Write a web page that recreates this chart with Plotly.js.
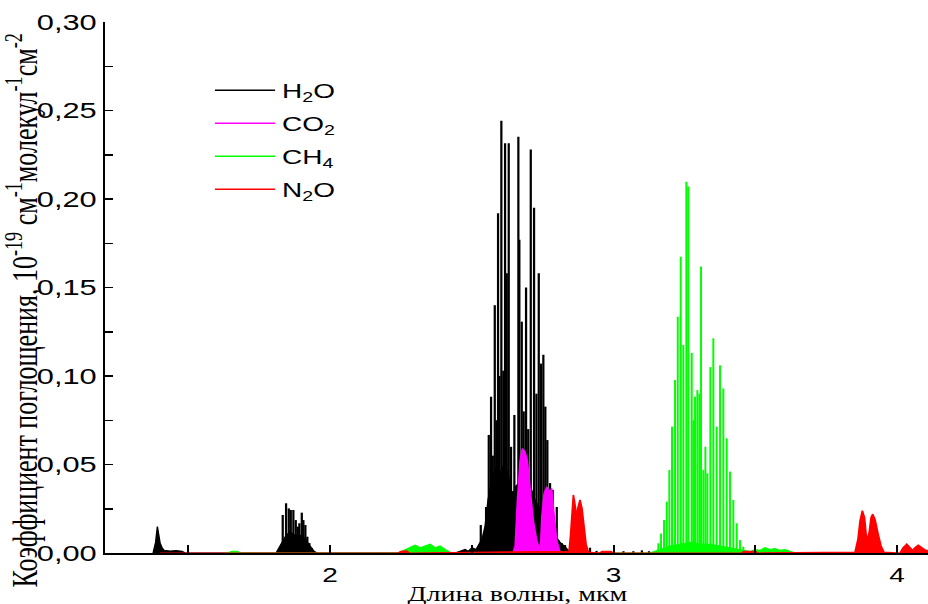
<!DOCTYPE html>
<html>
<head>
<meta charset="utf-8">
<script src="https://cdn.plot.ly/plotly-3.0.1.min.js"></script>
<style>
html,body{margin:0;padding:0;background:#fff;overflow:hidden;width:928px;height:604px;}
#chart{width:663px;height:604px;transform:scaleX(1.4);transform-origin:0 0;}
</style>
</head>
<body>
<div id="chart"></div>
<script>
// ---- data (wavelength in µm, absorption coefficient) ----
const seriesNames = ['H<sub>2</sub>O', 'CO<sub>2</sub>', 'CH<sub>4</sub>', 'N<sub>2</sub>O'];
const seriesColors = ['#000000', '#ff00ff', '#00ff00', '#ff0000'];

// H2O dense absorption envelope
const h2oEnvX = [1.3757,1.3845,1.3908,1.3951,1.4004,1.4074,1.4145,1.4356,1.4568,1.4780,1.4885,
  1.8095,1.8201,1.8307,1.8448,1.8589,1.8765,1.8942,1.9118,1.9295,1.9436,1.9541,
  2.4409,2.4586,2.4762,2.4868,2.5009,2.5150,2.5256,2.5362,2.5467,2.5573,2.5714,2.5855,2.5996,2.6138,2.6279,2.6420,2.6561,2.6702,2.6878,2.7055,2.7231,2.7407,2.7584,2.7760,2.7937,2.8113,2.8254,2.8395,2.8501];
const h2oEnvY = [0,0.006,0.0149,0.009,0.0056,0.003,0.0015,0.0012,0.0014,0.001,0,
  0,0.003,0.006,0.010,0.012,0.010,0.010,0.008,0.004,0.001,0,
  0,0.001,0.002,0.001,0.003,0.002,0.005,0.008,0.015,0.030,0.042,0.048,0.045,0.050,0.045,0.032,0.038,0.040,0.032,0.038,0.030,0.025,0.028,0.020,0.010,0.006,0.004,0.002,0];
// H2O individual lines
const h2oLineX = [1.8330,1.8448,1.8543,1.8614,1.8705,1.8790,1.8861,1.8917,1.9002,1.9058,1.9129,1.9199,1.9270,1.9354,
  2.5316,2.5503,2.5598,2.5679,2.5740,2.5810,2.5870,2.5926,2.5975,2.6042,2.6113,2.6173,2.6233,2.6303,2.6384,2.6445,2.6501,2.6642,2.6677,2.6762,2.6830,2.6914,2.6990,2.7080,2.7196,2.7280,2.7362,2.7443,2.7524,2.7594,2.7665,2.7760,2.7855,2.7997,2.8053,2.8173,2.8289,
  2.917,2.940,3.035,3.070,3.100,3.125];
const h2oLineY = [0.0215,0.0281,0.0252,0.0243,0.0243,0.0186,0.0149,0.0168,0.0228,0.0186,0.0158,0.0092,0.0056,0.0028,
  0.0158,0.026,0.0667,0.0883,0.055,0.140,0.075,0.192,0.10,0.2442,0.103,0.2315,0.158,0.2315,0.06,0.035,0.078,0.2352,0.177,0.1307,0.08,0.150,0.07,0.228,0.195,0.09,0.158,0.107,0.112,0.0827,0.0638,0.0395,0.0356,0.026,0.0073,0.0056,0.0045,
  0.003,0.0012,0.001,0.001,0.0015,0.001];

// CO2 band
const co2EnvX = [2.6450,2.6526,2.6607,2.6702,2.6783,2.6878,2.6960,2.7055,2.7171,2.7291,2.7383,2.7420,2.7467,2.7549,2.7644,2.7735,2.7820,2.7901,2.7997,2.8113,2.8150];
const co2EnvY = [0,0.004,0.030,0.0525,0.0591,0.0572,0.0525,0.0394,0.0186,0.0073,0.0027,0.004,0.0205,0.0337,0.0375,0.0346,0.0365,0.0224,0.0073,0.0007,0];

// CH4 band
const ch4EnvX = [1.6367,1.6543,1.6720,1.6861,
  2.2399,2.2646,2.2822,2.2998,2.3175,2.3351,2.3527,2.3704,2.3880,2.4056,2.4233,2.4409,
  3.1287,3.1464,3.1640,3.1993,3.2346,3.2698,3.3051,3.3404,3.3757,3.4109,3.4462,3.4815,3.4991,3.5168,3.5344,3.5520,3.5697,3.5873,3.6049,3.6226,3.6402];
const ch4EnvY = [0,0.001,0.001,0,
  0,0.002,0.003,0.0045,0.003,0.004,0.005,0.003,0.004,0.002,0.0005,0,
  0,0.001,0.002,0.004,0.005,0.006,0.005,0.005,0.004,0.003,0.002,0.0008,0.002,0.0015,0.003,0.002,0.0025,0.0015,0.002,0.001,0];
const ch4LineX = [3.1580,3.1675,3.1781,3.1877,3.1968,3.2063,3.2169,3.2265,3.2370,3.2462,3.2568,3.2638,3.2758,3.2820,3.2875,3.2956,3.3027,3.3086,3.3168,3.3240,3.3309,3.3415,3.3520,3.3640,3.3757,3.3873,3.3993,3.4109,3.4226,3.4346,3.4462,3.4578];
const ch4LineY = [0.0055,0.011,0.0186,0.029,0.0469,0.0714,0.0977,0.1335,0.1674,0.1175,0.2098,0.207,0.113,0.075,0.0883,0.092,0.09,0.1618,0.047,0.06,0.045,0.105,0.1213,0.0714,0.106,0.093,0.0648,0.046,0.030,0.0168,0.0073,0.0036];

// N2O band
const n2oEnvX = [1.400,2.240,2.250,2.270,2.280,
  2.8430,2.8483,2.8536,2.8582,2.8624,2.8677,2.8702,2.8748,2.8818,2.8889,2.8959,2.9030,2.9111,
  2.950,2.960,2.990,3.000,3.450,3.460,3.500,3.510,
  3.8519,3.8624,3.8695,3.8776,3.8854,3.8907,3.8967,3.9030,3.9083,3.9143,3.9224,3.9330,3.9436,3.9541,
  4.0106,4.0212,4.0342,4.0459,4.0554,4.0635,4.0751,4.0882,4.1023,4.1164];
const n2oEnvY = [0,0,0.001,0.0012,0,
  0.001,0.010,0.026,0.0328,0.029,0.021,0.0205,0.026,0.030,0.025,0.014,0.005,0.0005,
  0,0.001,0.001,0,0,0.001,0.001,0,
  0.0005,0.008,0.018,0.0239,0.020,0.011,0.0073,0.013,0.020,0.022,0.019,0.011,0.004,0.0005,
  0,0.003,0.0051,0.003,0.0015,0.003,0.0045,0.003,0.0015,0.0015];

const xTickVals = [2, 3, 4];
const xTickText = ['2', '3', '4'];
const yTickVals = [0, 0.05, 0.10, 0.15, 0.20, 0.25, 0.30];

// ---- build traces ----
function sticks(xs, ys) {
  const x = [], y = [];
  xs.forEach((v, i) => { x.push(v, v, null); y.push(0, ys[i], null); });
  return {x, y};
}
const h2oSt = sticks(h2oLineX, h2oLineY);
const ch4St = sticks(ch4LineX, ch4LineY);

const traces = [
  {x: h2oEnvX, y: h2oEnvY, mode: 'lines', fill: 'tozeroy', fillcolor: seriesColors[0], line: {color: seriesColors[0], width: 1}, showlegend: false, hoverinfo: 'skip'},
  {x: h2oSt.x, y: h2oSt.y, mode: 'lines', line: {color: seriesColors[0], width: 1.6}, showlegend: false, hoverinfo: 'skip', connectgaps: false},
  {x: co2EnvX, y: co2EnvY, mode: 'lines', fill: 'tozeroy', fillcolor: seriesColors[1], line: {color: seriesColors[1], width: 1}, showlegend: false, hoverinfo: 'skip'},
  {x: ch4EnvX, y: ch4EnvY, mode: 'lines', fill: 'tozeroy', fillcolor: seriesColors[2], line: {color: seriesColors[2], width: 1}, showlegend: false, hoverinfo: 'skip'},
  {x: ch4St.x, y: ch4St.y, mode: 'lines', line: {color: seriesColors[2], width: 1.4}, showlegend: false, hoverinfo: 'skip', connectgaps: false},
  {x: n2oEnvX, y: n2oEnvY, mode: 'lines', fill: 'tozeroy', fillcolor: seriesColors[3], line: {color: seriesColors[3], width: 1.2}, showlegend: false, hoverinfo: 'skip'}
];
seriesNames.forEach((n, i) => {
  traces.push({x: [null], y: [null], mode: 'lines', name: n, legendgroup: 'g' + i,
               line: {color: seriesColors[i], width: 1.5}, showlegend: true});
});

const layout = {
  width: 663, height: 604,
  margin: {l: 75, r: 0, t: 22, b: 51},
  paper_bgcolor: '#ffffff', plot_bgcolor: '#ffffff',
  separators: ', ',
  font: {family: 'Liberation Sans, Arial, sans-serif', size: 20, color: '#000'},
  showlegend: true,
  legend: {x: 0.125, y: 0.908, xanchor: 'left', yanchor: 'top', bgcolor: 'rgba(0,0,0,0)',
           font: {family: 'Liberation Sans, Arial, sans-serif', size: 20, color: '#000'},
           itemwidth: 43, traceorder: 'grouped', tracegroupgap: 4},
  xaxis: {range: [1.206, 4.110], showgrid: false, zeroline: false, showline: true, linecolor: '#000', linewidth: 1.5,
          tickmode: 'array', tickvals: xTickVals, ticktext: xTickText, ticks: 'inside', ticklen: 8, tickwidth: 1.4, tickcolor: '#000',
          minor: {ticks: 'inside', dtick: 0.5, tick0: 0, ticklen: 8, tickwidth: 1.4, tickcolor: '#000', showgrid: false},
          ticklabelstandoff: 4, tickfont: {size: 20}},
  yaxis: {range: [0, 0.30], showgrid: false, zeroline: false, showline: true, linecolor: '#000', linewidth: 1.5,
          tickmode: 'array', tickvals: yTickVals, tickformat: '.2f', ticks: 'inside', ticklen: 6, tickwidth: 1.5, tickcolor: '#000',
          minor: {ticks: 'inside', dtick: 0.025, tick0: 0, ticklen: 6, tickwidth: 1.5, tickcolor: '#000', showgrid: false},
          tickfont: {size: 22}},
  annotations: [
    {text: 'Коэффициент поглощения, 10<sup>-19</sup> см<sup>-1</sup>молекул<sup>-1</sup>см<sup>-2</sup>',
     xref: 'paper', yref: 'paper', x: -0.101, y: 0.4576, xanchor: 'center', yanchor: 'middle', textangle: -90, showarrow: false,
     font: {family: 'Liberation Serif, Times New Roman, serif', size: 26, color: '#000'}},
    {text: 'Длина волны, мкм', xref: 'paper', yref: 'paper', x: 0.5, y: -0.0785, xanchor: 'center', yanchor: 'middle', showarrow: false,
     font: {family: 'Liberation Serif, Times New Roman, serif', size: 20, color: '#000'}}
  ]
};

Plotly.newPlot('chart', traces, layout, {staticPlot: true, displayModeBar: false});
</script>
</body>
</html>
